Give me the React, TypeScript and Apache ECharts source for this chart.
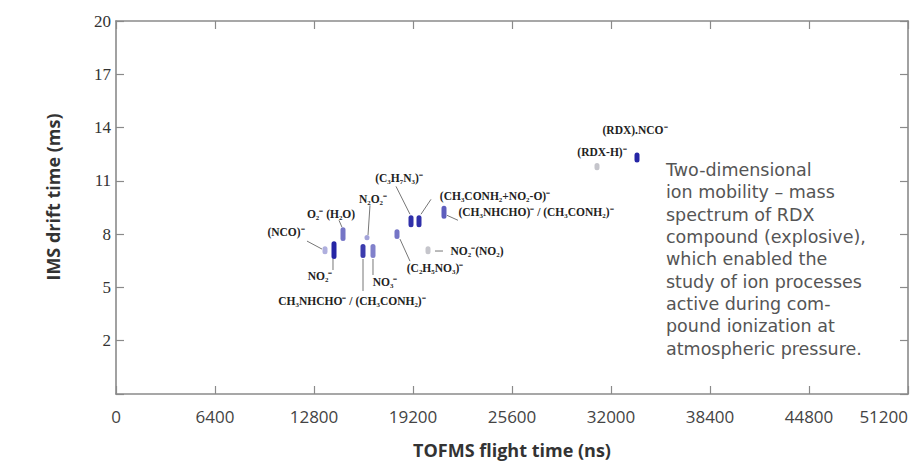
import React, { useEffect, useRef } from "react";
import * as echarts from "echarts";

// Axis setup
const xTickValues = [0, 6400, 12800, 19200, 25600, 32000, 38400, 44800, 51200];
const yTickValues = [2, 5, 8, 11, 14, 17, 20];

// Ion spots: TOF flight time (ns), drift time centre (ms), drift spread (ms), relative intensity
const spotTof = [13511, 14093, 14675, 16226, 15967, 16614, 18165, 19071, 19588, 21204, 20170, 33681, 31095];
const spotDrift = [7.1, 7.1, 8.0, 7.8, 7.05, 7.05, 8.0, 8.73, 8.73, 9.23, 7.1, 12.32, 11.8];
const spotSpread = [0.45, 1.0, 0.78, 0.3, 0.78, 0.8, 0.56, 0.67, 0.67, 0.73, 0.45, 0.56, 0.4];
const spotIntensity = [0.35, 0.95, 0.6, 0.4, 0.85, 0.55, 0.6, 0.9, 0.9, 0.7, 0.12, 0.95, 0.12];

// Annotations (ion assignments)
const labelText = [
  "(NCO)⁻",
  "O₂⁻ (H₂O)",
  "NO₂⁻",
  "N₂O₂⁻",
  "NO₃⁻",
  "CH₃NHCHO⁻ / (CH₃CONH₂)⁻",
  "(C₃H₇N₃)⁻",
  "(CH₃CONH₂+NO₂-O)⁻",
  "(CH₃NHCHO)⁻ / (CH₃CONH₂)⁻",
  "NO₂⁻(NO₂)",
  "(C₂H₅NO₃)⁻",
  "(RDX-H)⁻",
  "(RDX).NCO⁻",
];
const labelTof = [10990, 13899, 13188, 16614, 17390, 15256, 18295, 24501, 27151, 23337, 20622, 31418, 33552];
const labelDrift = [8.11, 9.12, 5.64, 9.96, 5.31, 4.24, 11.14, 10.13, 9.23, 7.05, 6.09, 12.65, 13.89];

// Leader lines: start/end in data coordinates
const leaderX1 = [12347, 14416, 14028, 16420, 16614, 15968, 18101, 19717, 21398, 20622, 18359];
const leaderY1 = [7.61, 8.78, 6.6, 9.62, 6.6, 6.6, 10.69, 9.12, 9.06, 7.05, 7.72];
const leaderX2 = [13317, 14610, 14028, 16291, 16614, 15968, 19006, 20363, 22109, 21139, 19006];
const leaderY2 = [7.16, 8.39, 5.98, 7.94, 5.7, 4.8, 9.12, 9.96, 8.78, 7.05, 6.48];

const xTitle = "TOFMS flight time (ns)";
const yTitle = "IMS drift time (ms)";

const captionLines = [
  "Two-dimensional",
  "ion mobility – mass",
  "spectrum of RDX",
  "compound (explosive),",
  "which enabled the",
  "study of ion processes",
  "active during com-",
  "pound ionization at",
  "atmospheric pressure.",
];

function spotColor(k: number): string {
  if (k < 0.2) return "rgba(150,150,160,0.55)";
  const r = Math.round(255 - (255 - 25) * k);
  const g = Math.round(255 - (255 - 25) * k);
  const b = Math.round(255 - (255 - 160) * k);
  return `rgb(${r},${g},${b})`;
}

const axisColor = "#8a8a8a";

export default function App() {
  const ref = useRef<HTMLDivElement>(null);
  useEffect(() => {
    if (!ref.current) return;
    const chart = echarts.init(ref.current, null, { renderer: "svg" });
    const spotData = spotTof.map((x, i) => [x, spotDrift[i], spotSpread[i], spotIntensity[i]]);
    const leaderData = leaderX1.map((x, i) => [x, leaderY1[i], leaderX2[i], leaderY2[i]]);
    const labelData = labelTof.map((x, i) => [x, labelDrift[i], i]);

    const baseAxisLine = { show: true, onZero: false, lineStyle: { color: axisColor, width: 1.6 } };
    const baseTick = { show: true, inside: true, length: 8, lineStyle: { color: axisColor, width: 1.2 } };

    const option: any = {
      animation: false,
      backgroundColor: "#ffffff",
      grid: { left: 116, top: 21, right: 4, bottom: 72, containLabel: false },
      xAxis: [
        {
          type: "value",
          position: "bottom",
          min: xTickValues[0],
          max: xTickValues[xTickValues.length - 1],
          interval: 6400,
          axisLine: baseAxisLine,
          axisTick: baseTick,
          axisLabel: {
            margin: 14,
            fontFamily: "Open Sans",
            fontSize: 17,
            color: "#444",
            alignMaxLabel: "right",
            formatter: (v: number) => String(v),
          },
          splitLine: { show: false },
        },
        {
          type: "value",
          position: "top",
          min: xTickValues[0],
          max: xTickValues[xTickValues.length - 1],
          interval: 6400,
          axisLine: baseAxisLine,
          axisTick: baseTick,
          axisLabel: { show: false },
          splitLine: { show: false },
        },
      ],
      yAxis: [
        {
          type: "value",
          position: "left",
          min: -1,
          max: yTickValues[yTickValues.length - 1],
          interval: 3,
          axisLine: baseAxisLine,
          axisTick: baseTick,
          axisLabel: {
            margin: 5,
            fontFamily: "Liberation Serif",
            fontSize: 17,
            color: "#333",
            formatter: (v: number) => (yTickValues.indexOf(v) >= 0 ? String(v) : ""),
          },
          splitLine: { show: false },
        },
        {
          type: "value",
          position: "right",
          min: -1,
          max: yTickValues[yTickValues.length - 1],
          interval: 3,
          axisLine: baseAxisLine,
          axisTick: baseTick,
          axisLabel: { show: false },
          splitLine: { show: false },
        },
      ],
      series: [
        {
          type: "custom",
          name: "leaders",
          xAxisIndex: 0,
          yAxisIndex: 0,
          data: leaderData,
          renderItem: (params: any, api: any) => {
            const p1 = api.coord([api.value(0), api.value(1)]);
            const p2 = api.coord([api.value(2), api.value(3)]);
            return {
              type: "line",
              shape: { x1: p1[0], y1: p1[1], x2: p2[0], y2: p2[1] },
              style: { stroke: "#777", lineWidth: 1 },
            };
          },
        },
        {
          type: "custom",
          name: "spots",
          xAxisIndex: 0,
          yAxisIndex: 0,
          data: spotData,
          renderItem: (params: any, api: any) => {
            const x = api.value(0);
            const y = api.value(1);
            const s = api.value(2);
            const k = api.value(3);
            const top = api.coord([x, y + s / 2]);
            const bot = api.coord([x, y - s / 2]);
            const w = 5;
            return {
              type: "rect",
              shape: { x: top[0] - w / 2, y: top[1], width: w, height: bot[1] - top[1], r: w / 2 },
              style: { fill: spotColor(k) },
            };
          },
        },
        {
          type: "custom",
          name: "labels",
          xAxisIndex: 0,
          yAxisIndex: 0,
          data: labelData,
          renderItem: (params: any, api: any) => {
            const p = api.coord([api.value(0), api.value(1)]);
            const idx = api.value(2);
            return {
              type: "text",
              x: p[0],
              y: p[1],
              style: {
                text: labelText[idx],
                fill: "#222",
                fontFamily: "Liberation Serif",
                fontWeight: "bold",
                fontSize: 11.5,
                align: "center",
                verticalAlign: "middle",
                textAlign: "center",
                textVerticalAlign: "middle",
              },
            };
          },
        },
      ],
      graphic: [
        {
          type: "text",
          x: 512,
          y: 450,
          style: {
            text: xTitle,
            fontFamily: "Open Sans",
            fontWeight: "bold",
            fontSize: 18,
            fill: "#333",
            align: "center",
            verticalAlign: "middle",
          },
        },
        {
          type: "text",
          x: 53,
          y: 197,
          rotation: Math.PI / 2,
          style: {
            text: yTitle,
            fontFamily: "Open Sans",
            fontWeight: "bold",
            fontSize: 18,
            fill: "#333",
            align: "center",
            verticalAlign: "middle",
          },
        },
        {
          type: "text",
          left: 666,
          top: 159,
          style: {
            text: captionLines.join("\n"),
            fontFamily: "DejaVu Sans",
            fontSize: 17.5,
            lineHeight: 22.3,
            fill: "#555",
          },
        },
      ],
    };
    chart.setOption(option);
    return () => chart.dispose();
  }, []);
  return (
    <div
      ref={ref}
      style={{ position: "fixed", left: 0, top: 0, width: 912, height: 466, background: "#fff" }}
    />
  );
}
